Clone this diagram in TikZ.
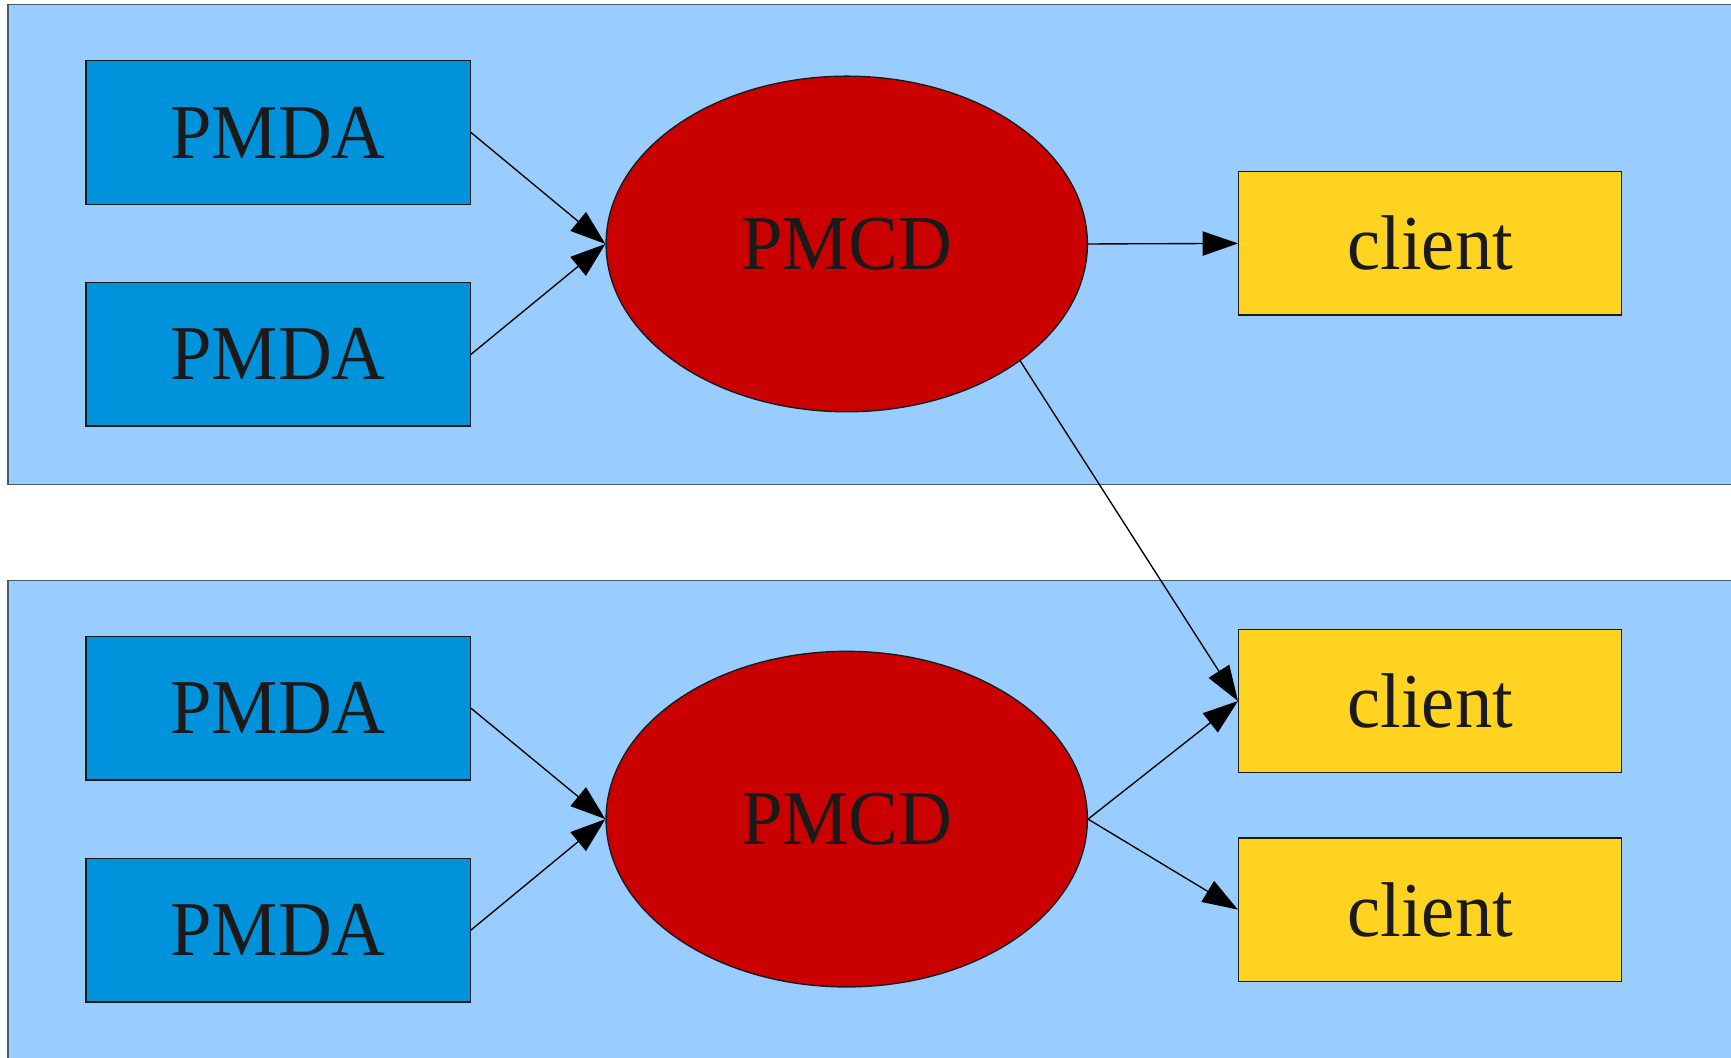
\documentclass[tikz,border=0pt]{standalone}
\usepackage{fontspec}
\setmainfont{Liberation Serif}[FakeStretch=0.96]
\usetikzlibrary{arrows.meta,positioning,shapes.geometric}
\definecolor{sky}{RGB}{153,204,255}
\definecolor{azure}{RGB}{0,146,218}
\definecolor{crimson}{RGB}{202,0,0}
\definecolor{sun}{RGB}{255,211,32}
\definecolor{slate}{RGB}{80,90,100}
\definecolor{ink}{RGB}{26,26,26}
\newcommand\pmfont{\fontsize{20pt}{24pt}\selectfont}
\tikzset{
  >={Triangle[length=3.2mm,width=2.2mm]},
  host/.style={draw=slate,fill=sky,line width=0.4pt},
  agent/.style={draw=ink,fill=azure,line width=0.35pt,minimum width=34.8mm,
    minimum height=13mm,inner sep=0pt,font=\pmfont,text=ink},
  daemon/.style={ellipse,draw=ink,fill=crimson,line width=0.35pt,minimum width=43.6mm,
    minimum height=30.4mm,inner sep=0pt,font=\pmfont,text=ink},
  client box/.style={draw=ink,fill=sun,line width=0.35pt,minimum width=34.7mm,
    minimum height=13mm,inner sep=0pt,font=\pmfont,text=ink},
  flow/.style={->,line width=0.35pt,draw=black},
}
\begin{document}
\begin{tikzpicture}[x=0.1mm,y=-0.1mm]
  \clip (0,0) rectangle (1568,958);
  % the two hosts
  \draw[host] (7,4) rectangle (1590,439);
  \draw[host] (7,526) rectangle (1590,990);
  % top host
  \node[agent] (pmda a) at (252,120) {PMDA};
  \node[agent] (pmda b) at (252,321) {PMDA};
  \node[daemon] (pmcd top) at (767,221) {PMCD};
  \node[client box] (client a) at (1295.5,220.5) {client};
  % bottom host
  \node[agent] (pmda c) at (252,641.5) {PMDA};
  \node[agent] (pmda d) at (252,842.5) {PMDA};
  \node[daemon] (pmcd bot) at (767,742) {PMCD};
  \node[client box] (client b) at (1295.5,635) {client};
  \node[client box] (client c) at (1295.5,824) {client};
  % connections
  \draw[flow] (pmda a.east) -- (pmcd top.west);
  \draw[flow] (pmda b.east) -- (pmcd top.west);
  \draw[flow] (pmcd top.east) -- (client a.west);
  \draw[flow] (pmcd top.-34.8) -- (client b.west);
  \draw[flow] (pmda c.east) -- (pmcd bot.west);
  \draw[flow] (pmda d.east) -- (pmcd bot.west);
  \draw[flow] (pmcd bot.east) -- (client b.west);
  \draw[flow] (pmcd bot.east) -- (client c.west);
\end{tikzpicture}
\end{document}
